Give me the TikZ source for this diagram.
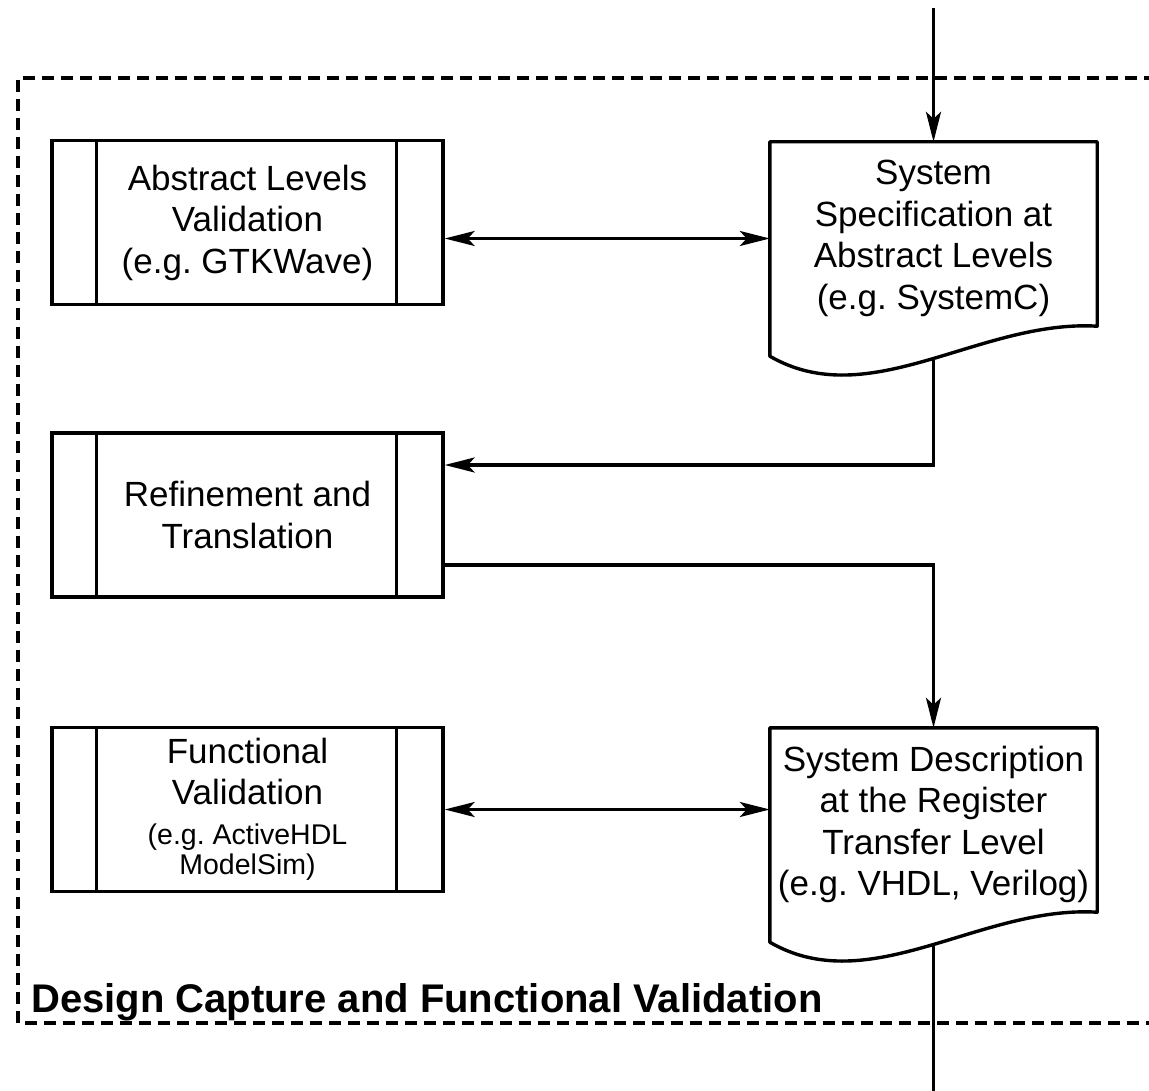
\documentclass[tikz,border=0pt]{standalone}
\usepackage{fontspec}
\setmainfont{Liberation Sans}
\usetikzlibrary{arrows.meta,calc}

\frenchspacing
\newcommand\egfont{\fontsize{28.5}{30}\selectfont}

\tikzset{
  boxfont/.style={font=\fontsize{35}{41.5}\selectfont, align=center},
  procbox/.style={draw, rectangle, line width=3.4pt, minimum width=391pt,
    minimum height=164pt, inner sep=0pt, boxfont},
  docbox/.style={rectangle, minimum width=327pt, minimum height=214pt, inner sep=0pt},
  doctext/.style={boxfont, inner sep=0pt},
  conn/.style={line width=3.2pt},
  tip/.style={Stealth[length=30pt,width=15pt,inset=7pt]},
  arr/.style={conn, -{Stealth[length=30pt,width=15pt,inset=7pt]}},
  darr/.style={conn, {Stealth[length=30pt,width=15pt,inset=7pt]}-{Stealth[length=30pt,width=15pt,inset=7pt]}},
  frame/.style={line width=3.5pt, dash pattern=on 12pt off 7pt},
  lbl/.style={font=\bfseries\fontsize{40}{42}\selectfont, inner sep=0pt}
}

\begin{document}
\begin{tikzpicture}[x=1pt, y=-1pt]
  \useasboundingbox (0,0) rectangle (1149,1091);
  \clip (0,0) rectangle (1149,1091);

  % enclosing dashed region (open to the right)
  \draw[frame] (1175,78) -- (18,78) -- (18,1023) -- (1175,1023);
  \node[lbl, anchor=base west] (capLabel) at (31,1012) {Design Capture and Functional Validation};

  % predefined-process boxes
  \node[procbox] (absVal) at (247.5,222.5) {Abstract Levels\\Validation\\(e.g. GTKWave)};
  \node[procbox] (refine) at (247.5,515) {Refinement and\\Translation};
  \node[procbox] (func) at (247.5,809.5)
    {Functional\\Validation\\[-1.5pt]\egfont (e.g. ActiveHDL\\[-11.5pt]\egfont ModelSim)};
  \foreach \b in {absVal,refine,func} {
    \draw[line width=3.4pt] ([xshift=46pt]\b.north west) -- ([xshift=46pt]\b.south west);
    \draw[line width=3.4pt] ([xshift=-48pt]\b.north east) -- ([xshift=-48pt]\b.south east);
  }

  % document shapes
  \node[docbox] (spec) at (933.5,249) {};
  \node[docbox] (descr) at (933.5,835) {};
  \node[doctext] (specText) at ([yshift=10.5pt]spec.center)
    {System\\Specification at\\Abstract Levels\\(e.g. SystemC)};
  \node[doctext] (descrText) at ([yshift=10.5pt]descr.center)
    {System Description\\at the Register\\Transfer Level\\(e.g. VHDL, Verilog)};
  \foreach \d in {spec,descr} {
    \draw[line width=3.4pt, line join=round]
      (\d.south west) -- (\d.north west) -- (\d.north east) -- ([yshift=30pt]\d.south east)
      .. controls ([xshift=-117pt,yshift=37pt]\d.south east)
              and ([xshift=100pt,yshift=-58pt]\d.south west) .. (\d.south west)
      coordinate[pos=0.5] (\d-w) -- cycle;
  }

  % connection points
  \coordinate (entry) at (933.5,8);
  \coordinate (exit) at (933.5,1095);
  \coordinate (refIn) at ([yshift=50pt]refine.east);
  \coordinate (refOut) at ([yshift=-50pt]refine.east);

  % connectors
  \draw[arr] (entry) -- (spec.north);
  \draw[darr] (absVal.east |- specText) -- (spec.west |- specText);
  \draw[arr] (spec.south |- spec-w) |- (refIn);
  \draw[arr] (refOut) -| (descr.north);
  \draw[darr] (func.east) -- (func.east -| descr.west);
  \draw[conn] (descr.south |- descr-w) -- (exit);
\end{tikzpicture}
\end{document}
